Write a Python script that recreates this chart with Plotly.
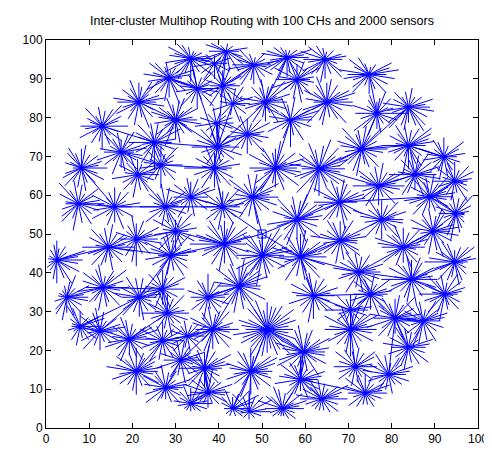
import math
import plotly.graph_objects as go

TITLE = "Inter-cluster Multihop Routing with 100 CHs and 2000 sensors"
SINK = (50.0, 50.0)

# Cluster-head positions
CH_X = [33.5, 28.5, 21.5, 30.0, 13.0, 25.1, 17.4, 8.2, 26.6, 41.7,
        48.1, 55.8, 64.6, 39.0, 40.9, 35.0, 58.1, 43.2, 50.8, 65.0,
        39.4, 56.6, 46.6, 39.7, 39.0, 53.1, 63.2, 74.8, 83.9, 76.6,
        73.1, 83.9, 92.1, 21.2, 7.5, 15.9, 27.7, 33.5, 30.0, 20.9,
        14.4, 2.5, 28.9, 4.8, 13.2, 21.6, 27.0, 40.9, 47.8, 58.1,
        68.0, 41.3, 50.1, 58.9, 68.1, 44.7, 37.5, 61.9, 85.4, 94.6,
        77.0, 88.8, 94.9, 77.7, 89.6, 82.7, 94.6, 72.4, 84.6, 75.1,
        92.3, 28.1, 7.9, 12.5, 19.3, 27.0, 32.7, 31.2, 20.9, 27.7,
        33.5, 38.6, 51.2, 59.6, 36.7, 47.4, 58.9, 37.5, 63.8, 43.2,
        47.0, 54.7, 70.5, 70.5, 80.8, 87.3, 83.9, 71.6, 79.3, 73.9]
CH_Y = [95.2, 90.2, 84.0, 79.4, 77.8, 73.6, 71.1, 67.0, 67.8, 97.1,
        93.6, 95.5, 95.0, 94.0, 88.2, 87.5, 89.8, 83.6, 84.0, 84.0,
        78.6, 79.4, 75.7, 72.4, 67.0, 67.0, 66.8, 91.1, 82.7, 81.1,
        71.9, 72.8, 69.9, 65.3, 57.8, 57.0, 57.0, 59.5, 50.7, 48.7,
        46.6, 43.3, 44.5, 33.7, 36.2, 33.7, 35.8, 57.0, 59.5, 53.7,
        58.2, 47.4, 44.5, 44.1, 48.3, 36.6, 33.7, 34.1, 65.3, 63.6,
        62.4, 59.6, 55.3, 53.7, 50.7, 46.6, 42.8, 40.2, 38.3, 34.5,
        34.5, 29.6, 26.2, 25.0, 22.9, 22.5, 23.7, 17.5, 14.6, 10.4,
        6.3, 25.4, 25.4, 19.6, 15.4, 14.6, 12.5, 9.2, 7.5, 5.0,
        4.2, 5.0, 30.4, 25.4, 28.3, 27.6, 20.8, 15.8, 13.8, 9.0]

# Next hop of each CH (1-based CH number, 0 = sink)
NEXT_HOP = [16, 16, 4, 24, 6, 24, 9, 36, 25, 15,
            15, 19, 17, 15, 24, 24, 19, 24, 24, 22,
            24, 26, 24, 25, 48, 49, 50, 30, 31, 31,
            27, 31, 32, 37, 36, 37, 48, 48, 52, 39,
            43, 41, 52, 45, 47, 43, 43, 0, 0, 0,
            50, 0, 0, 0, 54, 53, 56, 54, 61, 62,
            27, 51, 62, 55, 66, 68, 69, 54, 68, 58,
            69, 47, 46, 46, 72, 77, 82, 82, 76, 78,
            88, 56, 56, 83, 82, 83, 84, 85, 87, 86,
            86, 87, 58, 93, 70, 95, 95, 94, 95, 87]

# Member sensors of each CH: "<direction code><distance>" per sensor,
# direction code = 10-degree step (0-9, a-z), distance in axis units
DIR_CODES = "0123456789abcdefghijklmnopqrstuvwxyz"
MEMBERS = [
    "05 14 33 52 72 a3 c4 d5 f6 g4 h5 j6 k4 l7 n5 o6 p4 r6 s5 u4 w6 y5 z4",
    "03 15 26 44 63 82 a4 b3 d5 e6 g4 h6 j5 k3 l6 n5 o4 q6 r5 t7 u4 w5 y6",
    "04 16 25 43 57 66 84 95 b6 c4 e5 f3 h6 i5 k4 l6 n3 o5 q6 s4 t7 v5 x4 z6",
    "05 14 36 45 53 76 85 a4 b6 d3 e5 g6 h4 j5 l3 m6 o4 p7 r5 s6 u4 w5 x3 z6",
    "06 24 35 57 65 84 a5 c3 d6 f4 g3 i5 j4 l6 m3 o5 q4 r6 t5 v3 w6 y4",
    "04 15 37 46 64 85 a5 b3 d6 f5 g4 i6 j3 l5 n4 o6 q5 r7 t4 u6 w3 y5",
    "03 16 25 44 66 75 93 a5 c4 d6 f3 h5 i4 k6 m5 n3 p6 r4 s5 u3 v6 x4 z5",
    "06 14 25 45 64 86 95 b4 c6 d5 f3 g4 i2 k4 l5 n6 o4 q5 s6 t4 v5 x6 y4",
    "05 23 44 56 73 95 b4 d5 f3 h4 j5 l3 n5 p4 r6 t3 v5 x4",
    "03 15 42 82 d2 f4 g5 i4 k5 l6 n5 p6 q4 s5 u6 w5 y4",
    "04 16 33 54 82 b3 d5 f6 g4 i5 j6 k4 m7 n5 o6 q4 r5 t6 v4 x5 z3",
    "05 14 26 43 72 a2 c3 e4 g5 h6 j4 k5 l6 m5 o4 p6 r5 s4 u6 w5 y4",
    "04 15 24 53 82 a3 c4 e5 g6 i5 j4 l6 n5 o4 q6 r5 t4 v6 w5 y3",
    "03 24 42 92 d3 g4 j5 m4 o5 r4 u5 x4",
    "04 13 35 53 75 94 b3 d5 g4 i3 k5 m4 o6 q3 s5 u4 w6 y3",
    "05 23 34 56 73 a5 c4 e3 g6 h4 j5 l3 n6 p4 r5 t3 v6 x4 z5",
    "03 14 36 54 75 94 b5 d3 f6 h4 i5 k6 m4 o3 q5 s6 t4 v5 x3 z4",
    "04 25 43 65 84 b3 e4 h3 k5 n4 q3 t5 w4 z3",
    "05 14 26 33 57 75 84 a6 b4 d5 f3 h6 j4 k5 m3 o6 q4 r5 t3 u6 w4 y5",
    "06 15 27 36 44 65 86 95 b7 c5 e4 f6 h5 i3 k6 l4 n7 p5 q6 s4 u5 v7 x4 z6",
    "04 24 43 73 a4 d3 g4 j5 m3 p4 s5 v3 y4",
    "05 15 27 35 54 86 a4 b6 e3 f7 h5 j4 l6 n3 p5 r7 s4 u6 w3 y5",
    "03 14 36 55 73 94 b5 d3 f6 h4 j5 l3 n6 p4 r5 t3 v6 x4 z5",
    "05 13 35 54 72 96 b4 d6 e3 g5 i6 k4 m3 o5 q6 s4 u3 w5 y6",
    "04 16 34 53 75 94 b6 d4 f5 h3 i7 k5 m4 o6 p3 r5 t4 v6 x5 z3",
    "05 16 27 33 46 64 87 95 a4 c6 d5 f7 g4 i6 j5 l3 m6 o7 q4 r5 t6 u4 w7 y5 z6",
    "06 15 27 36 45 57 78 86 a5 b7 c4 e6 f5 h7 i4 k6 l5 n8 o4 q6 r7 t5 u4 w6 x7 z5",
    "04 17 25 36 63 82 b3 c5 e6 f4 h7 i5 j6 k4 m5 n6 p3 r5 t4 v6 x5 z6",
    "05 14 26 44 63 85 a4 c3 d5 f4 h6 j5 k4 m6 n7 p5 q6 r4 t5 u7 v6 x5 z6",
    "07 24 33 55 76 84 93 b5 c4 e3 g6 i5 k4 m7 n5 p6 r4 s5 u3 w4 y5",
    "06 15 34 57 64 86 a5 b4 d7 e5 g6 h5 j4 l6 m7 n5 p6 q7 s4 t5 v6 x4 z5",
    "04 16 25 36 47 65 84 a5 c6 d4 f5 h3 i6 k5 l4 n5 p3 q7 r6 t5 u6 w4 y6",
    "03 15 34 46 73 95 b4 c5 e3 g6 h4 j5 l3 n5 p4 q6 s5 u4 w3 y4",
    "05 14 26 45 73 94 b6 d4 f5 h3 j6 l4 n5 o3 q6 s4 u5 w3 y4",
    "06 15 34 46 63 85 a6 c4 d7 f5 h3 i3 k4 m5 n6 p4 q7 s5 u6 w4 y5",
    "04 16 33 55 74 95 b4 d3 f6 h4 j5 l6 n3 p5 r4 t6 v3 x5",
    "05 13 24 46 63 85 a6 c4 e5 g3 i6 k4 m6 o3 q5 s4 u6 w3 y5",
    "04 26 35 53 75 94 a5 c3 e5 g6 i4 k5 m3 o6 q4 s5 u3 w5 y4",
    "03 15 34 56 74 93 b5 d4 f6 h3 j5 l4 n6 p3 r5 t4 v3 x5",
    "05 24 36 53 75 94 a6 c4 e3 g5 i4 k6 m3 o5 q6 r7 t4 v5 x3 z6",
    "06 14 35 45 64 86 a5 c4 d6 f5 h3 i6 k5 l4 n6 p5 q4 s6 t3 v5 x4 z6",
    "06 15 27 43 64 83 95 a4 c3 f2 h2 k2 m3 o3 q5 r6 t5 u7 w4 x6 z5",
    "04 16 25 43 57 76 84 a6 b5 d4 f7 g5 i3 j6 l5 n4 o6 q5 s4 u6 w5 y4",
    "05 14 36 53 76 84 a3 c2 f2 h2 k3 n4 o5 q6 r4 t5 v6 x4 z5",
    "06 13 25 47 54 65 83 a6 b5 d4 e6 g5 i4 j6 l3 n5 o4 q6 s5 t4 v6 x5 z4",
    "04 15 26 44 63 85 a5 c6 d4 f5 h6 i4 k3 m5 n6 p4 r5 s6 u4 w5 y3",
    "05 24 36 54 73 95 b4 d5 f3 h4 j5 l4 n3 p5 r4 t5 v3 x4",
    "04 15 33 56 74 94 a5 c3 e6 g4 i5 k3 m5 o4 q6 s3 u5 w4 y5",
    "06 14 25 37 55 73 86 a6 c4 e7 f5 h4 j6 l5 n3 o6 q5 s7 u4 w5 y6 z4",
    "05 16 24 37 46 65 77 85 a6 b4 d7 e5 g6 h3 j7 k5 m4 o6 p7 r5 t6 u4 w7 y5",
    "04 16 26 35 54 75 86 a4 b6 d5 f7 g4 i6 j5 l4 n6 o5 q4 s7 t5 v4 x6",
    "05 14 26 36 47 65 76 84 96 a5 c7 d6 f5 g7 h6 i8 k5 l6 n4 o6 q7 r5 t6 v5 w4 y6",
    "05 17 26 44 57 68 76 95 a4 c6 d7 e5 g4 i6 j5 l7 m5 o6 p4 q8 s6 t5 v4 x6 z7",
    "06 15 24 37 46 53 75 87 96 a5 c6 d4 f5 g7 i5 k4 l6 n3 o7 q5 s6 t4 v7 w5 y6",
    "04 16 25 43 66 74 95 b5 c6 e4 g5 h7 j4 l6 m5 o4 q6 s5 u4 w6 x5 z4",
    "05 14 27 36 46 64 75 87 95 b6 c5 e7 f4 h6 i5 k7 l4 n6 p5 q7 s6 t4 v5 x7 z5",
    "04 15 33 55 74 96 b4 c5 e3 g5 i4 k3 m5 o4 q6 s3 u5 w4 y5",
    "05 14 26 44 65 84 a6 b5 d4 f6 h5 i4 k6 m4 o5 q7 r6 t4 v5 w6 y4",
    "05 14 26 45 66 73 85 a6 b4 d5 f3 h4 i6 k5 m3 o6 p5 r4 t6 v5 x4 z6",
    "03 14 35 55 73 95 b5 c4 e6 g3 i5 k4 m6 o4 q5 s3 u6 w4 y3 z2",
    "06 14 25 37 45 64 86 a5 c4 e6 f5 h3 i6 k4 m5 o6 p4 r5 t3 v6 x4 z5",
    "05 16 24 35 57 64 86 a5 b4 d6 f5 h3 j6 k5 m4 n6 p5 r3 t4 v6 x5 z4",
    "02 13 34 56 65 84 a5 c3 e6 g5 i4 k3 m6 o4 p6 q7 s5 t4 v3 x2 z2",
    "05 13 26 34 56 74 95 b3 c6 e4 g7 h5 j4 l3 n6 p4 r5 t3 v6 x4 z5",
    "04 16 25 43 65 76 84 a6 c5 d4 f6 h5 j3 l6 m5 o4 q6 s5 t7 v4 x5 z6",
    "05 14 26 35 56 74 95 b6 d4 e5 g7 h6 i5 k4 m6 n3 p5 r4 t6 v5 x4 z3",
    "03 15 24 46 55 74 93 b5 c6 e4 f5 h6 i7 k5 l4 n6 p5 q4 s6 t5 v4 x3 z2",
    "05 14 26 43 65 84 a5 c6 d4 f5 h6 j4 k5 m3 o6 q4 s5 u6 w4 y5",
    "06 15 24 36 53 65 76 95 a6 c4 d5 f6 h4 i7 k5 l6 n4 p5 q6 s7 u5 w4 y6",
    "04 15 24 46 63 85 b4 c6 e5 g3 i4 k5 m4 n6 p5 r4 t6 v5 x4 z3",
    "03 14 25 45 66 83 a5 c4 d6 f5 h3 i6 k5 l4 n6 p5 q7 s4 t3 v5 x4 z2",
    "05 14 33 56 74 95 b6 d4 f5 h3 i6 k4 m3 o5 q4 s6 u3 w4 y5",
    "05 26 35 53 94 b5 c6 e3 g2 i2 k3 m2 o4 q5 s3 u4 w5 y4",
    "04 16 25 45 63 85 a6 b5 d4 e6 g5 h4 j3 l5 n6 p4 r5 t3 v4 x5 z3",
    "06 14 27 36 45 63 84 a5 b6 d4 e5 g6 h4 j5 k6 m4 o5 p6 r4 t5 u6 w4 y5",
    "05 14 35 54 73 95 b4 d5 f6 h4 j3 k5 m4 o6 q5 s4 u5 w3 y4",
    "04 23 35 54 73 a4 c3 e5 g4 j3 l4 n5 q3 s4 v5 x3",
    "05 14 26 43 64 85 a5 c4 e3 g5 i4 k6 m3 o5 q4 s6 u4 w5 y3",
    "05 16 24 35 46 64 75 96 b5 d4 e6 g5 h7 j4 k6 m5 o4 q5 r6 t4 v5 x6 z4",
    "04 15 26 43 65 84 a6 c5 d4 f6 h5 j3 k5 m6 o4 p3 r3 t4 v5 x4 z3",
    "05 14 35 54 76 94 b5 d4 f3 h4 j3 m2 o2 r2 u2 w3 y4",
    "06 14 25 43 56 75 84 a6 c5 d4 f6 g5 i4 k6 l5 n4 p6 r5 t4 v6 x5 z4",
    "06 15 27 36 48 55 67 76 86 97 a5 b8 c6 d7 f5 g7 h6 i5 j8 k6 l7 m5 n6 o8 p5 q7 r6 s5 t7 u6 v8 w5 x6 y7 z5",
    "05 16 24 37 45 63 76 85 a7 b6 c4 e5 f6 g7 h5 j4 k6 l7 n5 p4 q6 s5 u7 w4 x6 z5",
    "04 16 25 37 44 65 86 94 b5 c4 e6 f5 h3 i6 k4 m5 n6 p4 r5 s7 t4 v5 x4 z3",
    "05 14 26 37 46 53 76 84 96 b5 c6 e4 g6 h5 j4 k6 m5 o4 p7 r6 t5 u4 w6 y5 z4",
    "04 15 26 44 63 85 96 b4 c5 e6 g4 h5 j6 l3 n5 p4 r3 t5 v4 x5 z3",
    "05 14 26 44 63 86 a5 c4 e5 g6 i4 j5 l4 n3 p3 r4 t3 v4 x5 z4",
    "06 14 25 37 45 63 84 a5 c6 d4 f5 h6 i5 k4 m3 o3 q3 s3 u4 w5 y4",
    "04 25 37 56 74 93 b5 d4 f3 i2 m2 p2 t2 w3 y3",
    "05 14 36 55 74 95 b4 d6 g3 j2 n2 r2 v2 y3",
    "05 14 26 33 46 65 84 a5 b6 d4 e5 g6 i4 k3 m3 o2 q2 s2 u3 w4 y3",
    "04 15 23 45 74 94 b3 d5 g4 i6 k3 m4 p3 s4 v3 y4",
    "06 15 24 37 46 55 76 84 95 b6 c5 e4 f7 h5 i6 k4 l6 n5 p4 q6 r7 t5 v4 x6 z5",
    "05 16 24 35 57 64 86 95 b4 c6 e5 f4 h6 i5 k7 m4 n6 p5 r4 t6 v5 x4 z6",
    "04 15 26 34 45 66 83 a5 b4 d6 f5 h4 i6 k3 m5 o4 p7 q6 s5 u6 w4 y5",
    "04 15 26 43 65 84 a5 c6 d4 f5 h6 i4 k5 m4 o6 p5 q6 s4 u5 w6 y4",
    "05 14 35 46 64 85 a4 c5 e6 g4 i5 k4 m5 o3 q5 s4 u3 w5 y4",
    "04 15 26 44 65 83 a5 c6 d4 f5 h6 j4 k5 m3 o5 q4 s5 u3 w4 y5",
    "05 14 26 35 53 74 95 b5 c4 e6 g5 i4 k3 m5 o4 q3 s3 u4 w3 y4",
]

BLUE = "#0000FF"

# sensor-to-CH links
sx, sy = [], []
for cx, cy, members in zip(CH_X, CH_Y, MEMBERS):
    for tok in members.split():
        ang = math.radians(DIR_CODES.index(tok[0]) * 10)
        dist = float(tok[1:])
        sx += [cx, cx + dist * math.cos(ang), None]
        sy += [cy, cy + dist * math.sin(ang), None]

# CH-to-CH (multihop) links
rx, ry = [], []
for i, nh in enumerate(NEXT_HOP):
    if nh == 0:
        tx, ty = SINK
    else:
        tx, ty = CH_X[nh - 1], CH_Y[nh - 1]
    rx += [CH_X[i], tx, None]
    ry += [CH_Y[i], ty, None]

fig = go.Figure()
fig.add_trace(go.Scatter(x=sx, y=sy, mode="lines",
                         line=dict(color=BLUE, width=1), hoverinfo="skip"))
fig.add_trace(go.Scatter(x=rx, y=ry, mode="lines",
                         line=dict(color=BLUE, width=1), hoverinfo="skip"))
fig.add_trace(go.Scatter(x=[SINK[0]], y=[SINK[1]], mode="markers",
                         marker=dict(symbol="square-open", size=8,
                                     color=BLUE, line=dict(width=1))))

axis_common = dict(range=[0, 100], dtick=10, tick0=0, showgrid=False,
                   zeroline=False, showline=True, linecolor="black",
                   linewidth=1, mirror="allticks", ticks="inside",
                   ticklen=5, tickcolor="black",
                   tickfont=dict(family="Liberation Sans, Arial", size=12,
                                 color="black"))

fig.update_layout(
    width=492, height=450,
    margin=dict(l=38, r=17, t=32, b=17, pad=0),
    paper_bgcolor="white", plot_bgcolor="white",
    showlegend=False,
    title=dict(text=TITLE, x=0.5, xref="paper", xanchor="center",
               y=1 - 13 / 450, yref="container", yanchor="middle",
               font=dict(family="Liberation Sans, Arial", size=12.5,
                         color="black")),
    xaxis=axis_common,
    yaxis=axis_common,
)

fig.write_html("out.html")
